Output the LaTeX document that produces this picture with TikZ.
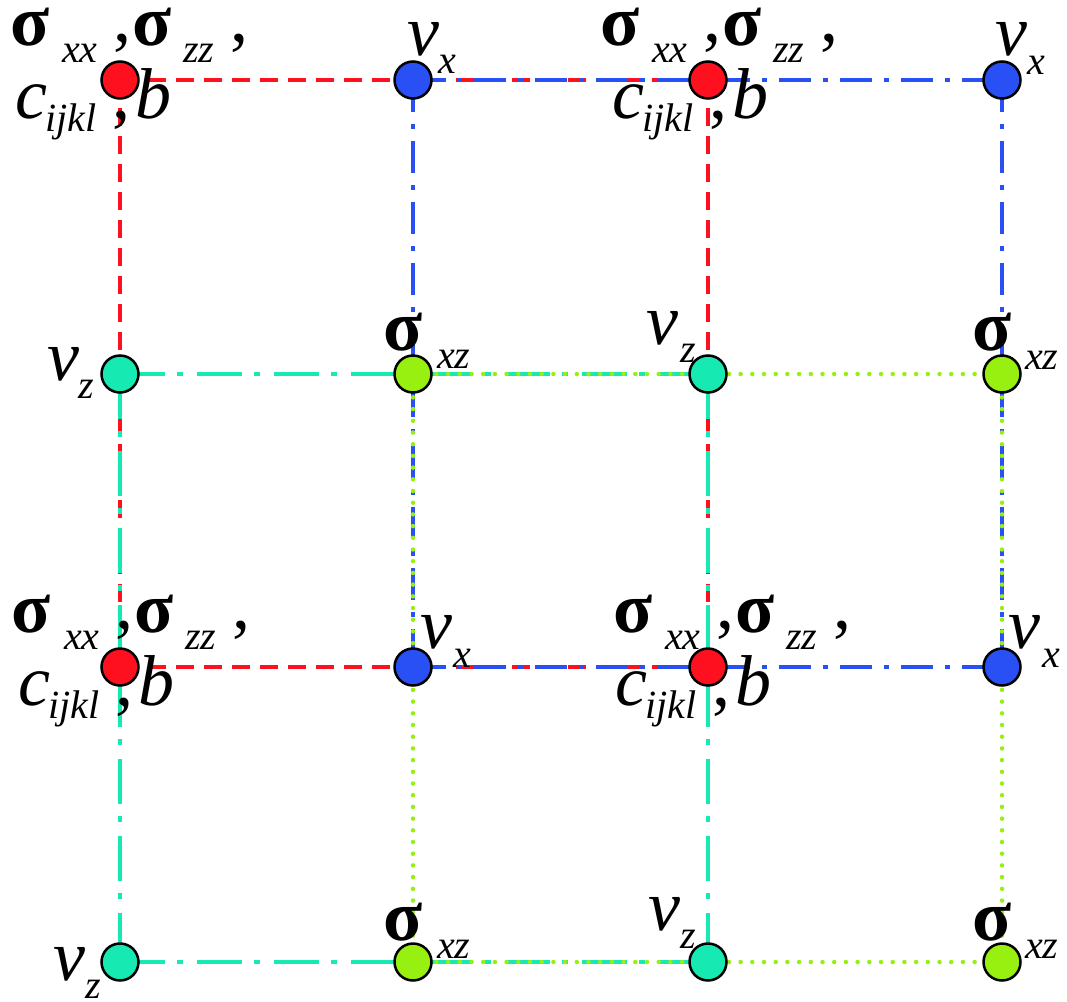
\documentclass[tikz,border=0pt]{standalone}
\usepackage{fontspec}
\setmainfont{Liberation Serif}
\newfontfamily\timesface{Liberation Serif}
\usetikzlibrary{backgrounds}
\definecolor{cred}{RGB}{255,16,30}
\definecolor{cblue}{RGB}{40,80,245}
\definecolor{cteal}{RGB}{22,234,178}
\definecolor{cgreen}{RGB}{152,240,16}
\newcommand\bigtxt{\timesface\fontsize{72}{72}\selectfont}
\newcommand\subtxt{\timesface\fontsize{40}{40}\selectfont\itshape}
\tikzset{
  gridpt/.style={circle, draw=black, line width=2.5pt, minimum size=37pt, inner sep=0pt},
  lbl/.style={anchor=base west, inner sep=0pt, outer sep=0pt},
  greek/.style={lbl, font=\bigtxt\bfseries},
  mainit/.style={lbl, font=\bigtxt\itshape},
  plain/.style={lbl, font=\bigtxt},
  subs/.style={lbl, font=\subtxt},
  redline/.style={draw=cred, line width=4pt, dash pattern=on 18pt off 10pt},
  blueline/.style={draw=cblue, line width=4pt, dash pattern=on 32pt off 12pt on 5pt off 12pt},
  tealline/.style={draw=cteal, line width=4pt, dash pattern=on 45pt off 12pt on 6pt off 14pt},
  greenline/.style={draw=cgreen, line width=4.5pt, line cap=round, dash pattern=on 0pt off 11.7pt},
}
% stress and material labels: #1 node, #2 name prefix, #3/#4 horizontal shifts of the two lines
\newcommand\stresslabels[4]{%
  \node[greek]  (#2a) at ([shift={(-110+#3,-35)}]#1) {σ};
  \node[subs]   (#2b) at ([shift={(-58+#3,-18)}]#1) {xx};
  \node[plain]  (#2c) at ([shift={(-7+#3,-39)}]#1) {,};
  \node[greek]  (#2d) at ([shift={(12+#3,-35)}]#1) {σ};
  \node[subs]   (#2e) at ([shift={(63+#3,-18)}]#1) {zz};
  \node[plain]  (#2f) at ([shift={(110+#3,-39)}]#1) {,};
  \node[mainit] (#2g) at ([shift={(-105+#4,38)}]#1) {c};
  \node[subs]   (#2h) at ([shift={(-75+#4,51)}]#1) {ijkl};
  \node[plain]  (#2i) at ([shift={(-8+#4,38)}]#1) {,};
  \node[mainit] (#2j) at ([shift={(15+#4,38)}]#1) {b};
}
\begin{document}
\begin{tikzpicture}[x=1pt,y=-1pt]
\useasboundingbox (0,0) rectangle (1067,1001);

% grid points
\node[gridpt, fill=cred]   (r1) at (120,80)  {};
\node[gridpt, fill=cred]   (r2) at (708,80)  {};
\node[gridpt, fill=cred]   (r3) at (120,667) {};
\node[gridpt, fill=cred]   (r4) at (708,667) {};
\node[gridpt, fill=cblue]  (b1) at (413,80)  {};
\node[gridpt, fill=cblue]  (b2) at (1002,80) {};
\node[gridpt, fill=cblue]  (b3) at (413,667) {};
\node[gridpt, fill=cblue]  (b4) at (1002,667) {};
\node[gridpt, fill=cteal]  (t1) at (120,374) {};
\node[gridpt, fill=cteal]  (t2) at (708,374) {};
\node[gridpt, fill=cteal]  (t3) at (120,962) {};
\node[gridpt, fill=cteal]  (t4) at (708,962) {};
\node[gridpt, fill=cgreen] (g1) at (413,374) {};
\node[gridpt, fill=cgreen] (g2) at (1002,374) {};
\node[gridpt, fill=cgreen] (g3) at (413,962) {};
\node[gridpt, fill=cgreen] (g4) at (1002,962) {};

% staggered sub-grids, each joining points of one kind
\begin{scope}[on background layer]
  \path[redline]   (r1.center) -- (r2.center) (r3.center) -- (r4.center)
                   (r1.center) -- (r3.center) (r2.center) -- (r4.center);
  \path[blueline]  (b1.center) -- (b2.center) (b3.center) -- (b4.center)
                   (b1.center) -- (b3.center) (b2.center) -- (b4.center);
  \path[tealline]  (t1.center) -- (t2.center) (t3.center) -- (t4.center)
                   (t1.center) -- (t3.center) (t2.center) -- (t4.center);
  \path[greenline] (g1.center) -- (g2.center) (g3.center) -- (g4.center)
                   (g1.center) -- (g3.center) (g2.center) -- (g4.center);
\end{scope}

% labels of the stress points
\stresslabels{r1}{ra}{0}{0}
\stresslabels{r2}{rb}{2}{9}
\stresslabels{r3}{rc}{2}{3}
\stresslabels{r4}{rd}{15}{12}

% labels of v_x
\node[mainit] (b1v) at ([shift={(-6,-25)}]b1) {v};
\node[subs]   (b1x) at ([shift={(25,-7)}]b1) {x};
\node[mainit] (b2v) at ([shift={(-7,-25)}]b2) {v};
\node[subs]   (b2x) at ([shift={(25,-6)}]b2) {x};
\node[mainit] (b3v) at ([shift={(7,-19)}]b3) {v};
\node[subs]   (b3x) at ([shift={(40,0)}]b3) {x};
\node[mainit] (b4v) at ([shift={(6,-19)}]b4) {v};
\node[subs]   (b4x) at ([shift={(40,0)}]b4) {x};

% labels of v_z
\node[mainit] (t1v) at ([shift={(-73,6)}]t1) {v};
\node[subs]   (t1z) at ([shift={(-42,24)}]t1) {z};
\node[mainit] (t2v) at ([shift={(-62,-30)}]t2) {v};
\node[subs]   (t2z) at ([shift={(-28,-12)}]t2) {z};
\node[mainit] (t3v) at ([shift={(-67,18)}]t3) {v};
\node[subs]   (t3z) at ([shift={(-35,36)}]t3) {z};
\node[mainit] (t4v) at ([shift={(-60,-32)}]t4) {v};
\node[subs]   (t4z) at ([shift={(-28,-14)}]t4) {z};

% labels of sigma_xz
\node[greek] (g1s) at ([shift={(-30,-24)}]g1) {σ};
\node[subs]  (g1x) at ([shift={(24,-6)}]g1) {xz};
\node[greek] (g2s) at ([shift={(-30,-24)}]g2) {σ};
\node[subs]  (g2x) at ([shift={(23,-5)}]g2) {xz};
\node[greek] (g3s) at ([shift={(-30,-22)}]g3) {σ};
\node[subs]  (g3x) at ([shift={(24,-4)}]g3) {xz};
\node[greek] (g4s) at ([shift={(-30,-22)}]g4) {σ};
\node[subs]  (g4x) at ([shift={(23,-4)}]g4) {xz};
\end{tikzpicture}
\end{document}
